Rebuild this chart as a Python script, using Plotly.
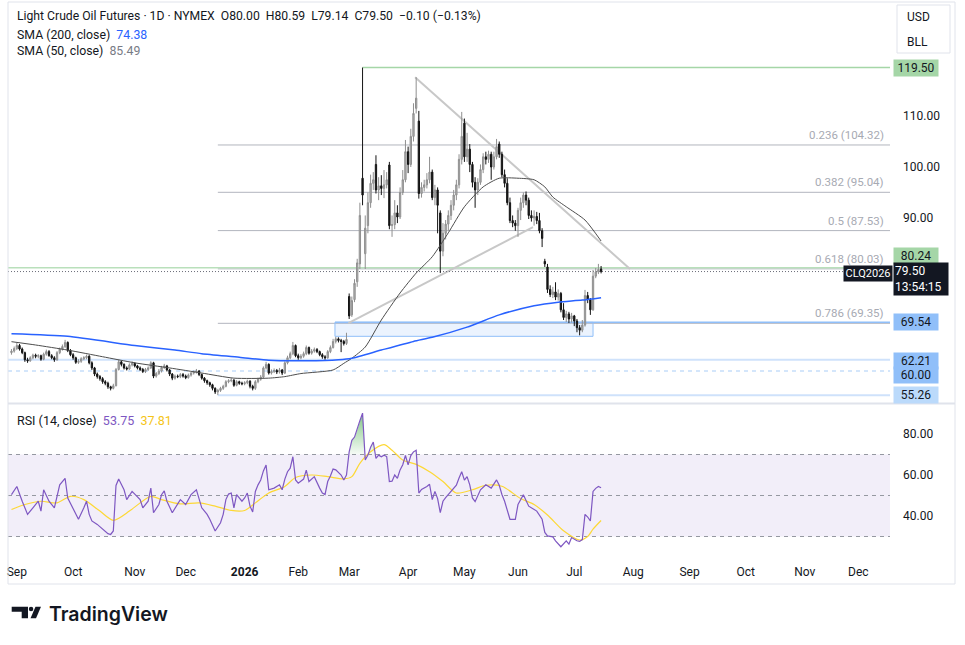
import plotly.graph_objects as go
import pandas as pd

W, H = 965, 645
FONT = "Roboto"
TXT = "#131722"

# ---------------- data ----------------
axis_start_day = "2025-08-27"     # first trading day at the left edge of the time axis
first_bar_day = "2025-08-28"      # first candle in the data lists
last_axis_day = "2026-12-31"
holidays = ["2025-09-01", "2025-11-27", "2025-12-25", "2026-01-01", "2026-01-19",
            "2026-02-16", "2026-04-03", "2026-05-25", "2026-06-19", "2026-07-03",
            "2026-09-07", "2026-11-26", "2026-12-25"]

opens = [
    63.6, 63.9, 64.4, 65.0, 64.3, 63.6, 62.2, 62.0, 62.6, 63.1,
    62.9, 63.0, 62.3, 63.3, 63.8, 63.0, 62.6, 62.2, 63.6, 64.3,
    64.8, 65.6, 64.0, 63.2, 62.6, 61.7, 61.9, 62.4, 62.6, 62.9,
    61.6, 60.6, 59.4, 58.9, 58.5, 57.9, 57.6, 56.9, 56.6, 57.1,
    60.3, 61.8, 61.3, 60.6, 60.4, 61.2, 61.5, 61.0, 60.6, 60.3,
    59.9, 60.3, 60.6, 61.6, 59.0, 59.5, 60.0, 60.7, 61.0, 60.2,
    59.4, 58.6, 59.0, 58.9, 59.3, 59.0, 58.7, 59.2, 59.6, 59.8,
    60.0, 59.3, 58.6, 58.1, 57.7, 57.3, 56.6, 55.9, 56.2, 56.6,
    57.0, 57.9, 58.1, 58.2, 57.2, 57.9, 57.6, 57.5, 57.7, 58.0,
    57.0, 56.6, 57.9, 58.4, 58.8, 60.6, 61.3, 59.6, 59.9, 60.1,
    59.8, 60.2, 59.6, 61.6, 62.6, 63.4, 65.0, 63.0, 62.6, 62.9,
    63.4, 64.6, 63.5, 63.9, 64.2, 63.8, 63.2, 62.8, 62.6, 63.8,
    64.6, 65.8, 66.3, 66.0, 65.8, 65.4, 74.6, 71.0, 74.0, 77.5,
    81.0, 97.8, 83.0, 88.5, 93.0, 96.8, 100.5, 95.5, 96.3, 95.8,
    96.5, 100.4, 88.5, 88.7, 91.0, 90.2, 95.0, 97.5, 103.0, 100.5,
    106.0, 111.5, 109.0, 94.8, 96.0, 96.5, 97.5, 99.0, 94.0, 95.5,
    91.0, 83.5, 87.0, 88.8, 90.5, 92.5, 94.5, 96.5, 101.5, 108.6,
    102.0, 103.5, 100.5, 97.0, 95.5, 97.0, 99.5, 102.0, 101.5, 102.5,
    100.0, 102.0, 104.5, 102.5, 98.5, 96.8, 93.0, 89.5, 89.0, 88.5,
    91.5, 93.0, 94.5, 93.5, 90.5, 90.0, 90.3, 89.5, 87.5, 81.5,
    80.4, 76.0, 75.0, 75.5, 74.5, 75.2, 72.0, 70.5, 71.2, 70.2,
    70.8, 69.8, 68.5, 68.0, 69.0, 74.8, 74.0, 72.0, 78.6, 79.4,
    80.0]
highs = [
    64.3, 64.8, 65.5, 65.3, 64.6, 63.8, 62.6, 62.9, 63.4, 63.4,
    63.3, 63.2, 63.6, 64.2, 64.1, 63.3, 62.9, 63.9, 64.6, 65.2,
    66.1, 65.8, 64.3, 63.5, 62.8, 62.3, 62.7, 62.9, 63.2, 63.1,
    61.9, 60.8, 59.7, 59.2, 58.8, 58.2, 57.9, 57.1, 57.5, 60.6,
    62.3, 62.0, 61.5, 60.9, 61.5, 61.9, 61.7, 61.2, 60.9, 60.6,
    60.6, 60.9, 61.9, 61.8, 59.8, 60.4, 61.0, 61.4, 61.2, 60.4,
    59.6, 59.3, 59.3, 59.6, 59.6, 59.3, 59.5, 59.9, 60.1, 60.4,
    60.2, 59.5, 58.8, 58.3, 57.9, 57.5, 56.8, 56.5, 56.9, 57.3,
    58.2, 58.4, 58.6, 58.4, 58.2, 58.1, 57.9, 58.0, 58.3, 58.2,
    57.3, 58.2, 58.7, 59.2, 60.9, 61.8, 61.5, 60.3, 60.5, 60.4,
    60.6, 60.4, 61.9, 63.0, 63.8, 65.7, 65.2, 63.4, 63.3, 63.8,
    65.0, 64.8, 64.3, 64.6, 64.5, 64.0, 63.5, 63.1, 64.1, 65.0,
    66.3, 66.7, 66.6, 66.3, 66.1, 67.5, 75.2, 74.6, 78.0, 82.0,
    93.0, 119.5, 90.5, 95.0, 98.5, 99.0, 102.3, 98.0, 98.4, 99.4,
    99.0, 101.0, 90.5, 93.5, 92.5, 96.0, 99.4, 105.3, 104.0, 107.5,
    112.5, 117.6, 111.0, 97.0, 97.5, 98.8, 102.0, 99.5, 96.5, 96.0,
    91.5, 89.0, 89.6, 91.5, 93.5, 95.5, 97.5, 102.5, 110.8, 109.5,
    106.7, 104.5, 101.0, 98.0, 97.8, 100.5, 102.7, 103.0, 103.2, 103.0,
    103.0, 105.5, 105.0, 103.0, 99.5, 97.8, 94.0, 90.5, 89.6, 92.0,
    94.0, 95.0, 95.2, 94.0, 91.5, 91.5, 91.2, 91.0, 88.0, 82.0,
    81.0, 76.8, 76.5, 77.4, 76.0, 75.5, 73.3, 71.8, 71.6, 71.4,
    71.0, 70.2, 69.0, 70.0, 75.9, 75.5, 74.3, 79.8, 80.2, 81.0,
    80.59]
lows = [
    63.2, 63.6, 64.1, 64.0, 63.3, 61.8, 61.6, 61.8, 62.3, 62.5,
    62.5, 62.0, 62.1, 63.0, 62.8, 62.3, 61.8, 62.0, 63.3, 64.0,
    64.5, 63.7, 62.9, 62.2, 61.4, 61.4, 61.6, 62.1, 62.3, 61.3,
    60.2, 59.0, 58.5, 58.1, 57.5, 57.2, 56.5, 56.2, 56.4, 57.0,
    60.1, 60.9, 60.3, 60.1, 60.2, 60.9, 60.7, 60.3, 60.0, 59.6,
    59.6, 60.0, 60.4, 58.6, 58.7, 59.2, 59.7, 60.4, 59.9, 59.0,
    58.2, 58.3, 58.6, 58.6, 58.7, 58.4, 58.5, 58.9, 59.3, 59.5,
    59.0, 58.3, 57.7, 57.3, 56.9, 56.2, 55.5, 55.26, 55.9, 56.3,
    56.8, 57.6, 57.8, 56.9, 57.0, 57.3, 57.2, 57.2, 57.4, 56.6,
    56.2, 56.3, 57.6, 58.1, 58.6, 60.3, 59.3, 59.3, 59.6, 59.4,
    59.5, 59.2, 59.4, 61.3, 62.3, 63.1, 62.7, 62.2, 62.3, 62.6,
    63.1, 63.2, 63.2, 63.6, 63.5, 62.9, 62.4, 62.2, 62.4, 63.5,
    64.4, 65.4, 65.6, 63.7, 65.0, 65.1, 70.2, 70.6, 73.5, 76.5,
    80.0, 92.5, 80.0, 87.0, 92.0, 95.5, 94.8, 93.5, 94.5, 93.9,
    95.8, 87.8, 86.3, 87.8, 89.0, 89.8, 94.5, 97.0, 98.8, 100.0,
    105.0, 110.5, 93.8, 94.0, 95.2, 95.8, 96.8, 93.5, 92.5, 87.0,
    79.2, 82.5, 85.8, 87.5, 89.6, 91.5, 93.5, 95.8, 100.5, 101.0,
    101.0, 99.0, 96.0, 92.0, 94.5, 96.5, 98.8, 100.5, 100.8, 97.5,
    99.5, 101.5, 101.8, 98.0, 96.0, 92.5, 89.0, 88.2, 87.5, 86.3,
    89.6, 92.0, 92.5, 89.8, 89.3, 88.5, 88.8, 87.0, 84.3, 80.4,
    75.3, 74.5, 74.3, 73.9, 73.8, 71.5, 70.0, 69.6, 69.4, 69.5,
    68.8, 67.6, 67.0, 67.6, 68.7, 73.3, 71.0, 71.8, 78.2, 79.0,
    79.14]
closes = [
    63.9, 64.4, 65.0, 64.3, 63.6, 62.2, 62.0, 62.6, 63.1, 62.9,
    63.0, 62.3, 63.3, 63.8, 63.0, 62.6, 62.2, 63.6, 64.3, 64.8,
    65.6, 64.0, 63.2, 62.6, 61.7, 61.9, 62.4, 62.6, 62.9, 61.6,
    60.6, 59.4, 58.9, 58.5, 57.9, 57.6, 56.9, 56.6, 57.1, 60.3,
    61.8, 61.3, 60.6, 60.4, 61.2, 61.5, 61.0, 60.6, 60.3, 59.9,
    60.3, 60.6, 61.6, 59.0, 59.5, 60.0, 60.7, 61.0, 60.2, 59.4,
    58.6, 59.0, 58.9, 59.3, 59.0, 58.7, 59.2, 59.6, 59.8, 60.0,
    59.3, 58.6, 58.1, 57.7, 57.3, 56.6, 55.9, 56.2, 56.6, 57.0,
    57.9, 58.1, 58.2, 57.2, 57.9, 57.6, 57.5, 57.7, 58.0, 57.0,
    56.6, 57.9, 58.4, 58.8, 60.6, 61.3, 59.6, 59.9, 60.1, 59.8,
    60.2, 59.6, 61.6, 62.6, 63.4, 65.0, 63.0, 62.6, 62.9, 63.4,
    64.6, 63.5, 63.9, 64.2, 63.8, 63.2, 62.8, 62.6, 63.8, 64.6,
    65.8, 66.3, 66.0, 65.8, 65.4, 66.2, 70.8, 73.8, 77.2, 81.2,
    90.5, 94.5, 88.0, 93.0, 96.8, 97.5, 95.5, 96.3, 95.8, 96.5,
    97.5, 88.5, 88.7, 91.0, 90.2, 95.0, 97.5, 103.0, 100.5, 106.0,
    110.5, 113.5, 94.8, 96.0, 96.5, 97.5, 99.0, 94.0, 95.5, 92.5,
    83.5, 87.0, 88.8, 90.5, 92.5, 94.5, 96.5, 101.5, 106.0, 102.0,
    103.5, 100.5, 97.0, 95.5, 97.0, 99.5, 102.0, 101.5, 102.5, 100.0,
    102.0, 104.0, 102.5, 98.5, 96.8, 93.0, 89.5, 89.0, 88.5, 91.5,
    93.0, 94.5, 93.5, 90.5, 90.0, 90.3, 89.5, 87.5, 86.0, 81.0,
    76.0, 75.0, 75.5, 74.5, 75.2, 72.0, 70.5, 71.2, 70.2, 70.8,
    69.8, 68.5, 68.0, 69.0, 74.8, 74.0, 72.0, 78.6, 79.4, 79.9,
    79.5]
assert len(opens) == len(highs) == len(lows) == len(closes), (len(opens), len(highs), len(lows), len(closes))

# indicator samples, keyed by candle number (0 = first candle)
sma200_bar = [0, 21, 46, 61, 71, 85, 96, 110, 122, 127, 138, 150, 157, 170, 182, 195, 204, 213, 220]
sma200_val = [67.3, 66.8, 65.0, 64.1, 63.4, 62.7, 62.1, 62.0, 62.2, 62.5, 64.1, 65.8, 66.6, 68.6, 71.0,
              72.8, 73.5, 73.9, 74.38]
sma50_bar = [0, 9, 21, 34, 46, 59, 71, 83, 96, 102, 108, 120, 124, 127, 132, 138, 145, 151, 157, 163,
             169, 176, 182, 189, 195, 199, 202, 207, 214, 220]
sma50_val = [65.75, 65.1, 64.1, 62.8, 61.6, 60.6, 59.6, 58.6, 58.6, 58.9, 59.5, 60.2, 61.5, 62.5, 64.7,
             70.0, 75.3, 79.2, 82.4, 87.1, 92.2, 96.1, 97.8, 97.8, 97.5, 96.1, 94.1, 92.2, 89.6, 85.49]

rsi_bar = [0, 2, 4, 6, 8, 10, 11, 12, 14, 16, 18, 20, 21, 23, 25, 27, 28, 29, 30, 32, 34, 36, 37, 38, 39,
           40, 42, 43, 45, 48, 49, 51, 52, 53, 55, 56, 57, 58, 60, 62, 63, 65, 67, 69, 70, 71, 73, 74,
           76, 78, 79, 80, 81, 82, 83, 84, 86, 87, 88, 89, 90, 91, 92, 93, 94, 95, 96, 98, 100, 101,
           102, 103, 104, 105, 106, 107, 109, 110, 111, 113, 115, 116, 117, 118, 119, 120, 121, 123,
           124, 125, 126, 127, 128, 129, 130, 131, 132, 133, 134, 135, 136, 137, 138, 139, 140, 141,
           142, 143, 144, 145, 146, 147, 148, 149, 150, 151, 152, 153, 154, 155, 156, 157, 158, 159,
           160, 161, 162, 163, 165, 166, 167, 168, 169, 170, 171, 172, 173, 175, 177, 179, 181, 182,
           183, 184, 186, 188, 189, 191, 193, 195, 196, 198, 199, 200, 202, 203, 205, 207, 208, 209,
           211, 212, 213, 214, 215, 216, 217, 218, 219, 220]
rsi_val = [50.4, 54.4, 47.2, 40.8, 44.0, 47.2, 42.4, 52.8, 47.2, 44.0, 55.2, 58.4, 48.8, 43.2, 38.4,
           44.0, 47.2, 40.8, 37.6, 35.9, 33.5, 31.4, 31.0, 32.7, 54.9, 58.0, 52.8, 48.0, 52.0, 48.0,
           44.0, 47.2, 53.6, 41.6, 45.6, 50.4, 52.3, 47.2, 41.6, 45.6, 48.0, 45.6, 50.4, 52.8, 48.0,
           44.0, 40.8, 38.4, 32.7, 36.7, 40.8, 48.0, 50.7, 51.2, 44.0, 50.4, 47.2, 48.8, 51.2, 44.8,
           42.0, 52.0, 55.2, 57.6, 62.0, 64.9, 52.8, 53.6, 55.2, 52.8, 58.0, 61.6, 63.3, 68.9, 57.6,
           56.0, 58.0, 62.4, 56.8, 59.2, 53.6, 51.2, 50.5, 56.8, 59.5, 62.9, 62.5, 60.0, 57.6, 60.0,
           71.3, 76.9, 78.5, 82.0, 86.5, 90.2, 67.3, 69.7, 73.5, 76.1, 68.1, 69.7, 68.9, 69.7, 69.0,
           56.8, 57.0, 60.0, 58.4, 62.5, 65.0, 69.5, 64.9, 69.5, 71.3, 72.1, 51.2, 53.0, 53.6, 54.4,
           55.5, 48.0, 52.0, 48.5, 41.6, 47.2, 49.0, 50.4, 53.6, 55.0, 58.5, 61.6, 57.5, 59.2, 55.2,
           48.8, 47.0, 52.8, 55.2, 53.6, 57.6, 55.0, 50.5, 47.2, 38.4, 38.4, 45.6, 50.4, 44.8, 43.2,
           42.4, 38.4, 32.0, 30.3, 29.8, 27.9, 25.0, 27.9, 26.3, 29.5, 27.9, 27.6, 28.5, 40.8, 39.5,
           37.6, 52.0, 53.5, 54.4, 53.75]
assert len(rsi_bar) == len(rsi_val), (len(rsi_bar), len(rsi_val))

rsima_bar = [0, 5, 11, 17, 22, 27, 33, 38, 44, 48, 52, 56, 63, 70, 76, 82, 87, 91, 96, 102, 106, 112,
             118, 124, 127, 130, 134, 139, 142, 146, 151, 156, 161, 166, 172, 177, 183, 190, 195, 200,
             206, 212, 215, 217, 220]
rsima_val = [43.2, 45.6, 47.2, 46.4, 49.6, 48.0, 42.4, 37.9, 42.4, 46.4, 49.6, 48.0, 45.9, 46.4, 44.8,
             42.7, 42.7, 46.4, 51.2, 54.4, 58.8, 60.0, 59.2, 58.1, 59.2, 65.7, 71.3, 74.8, 72.1, 67.3,
             65.2, 61.6, 56.8, 51.2, 52.8, 55.0, 54.5, 48.5, 45.6, 40.5, 32.8, 28.3, 30.0, 33.6, 37.81]
assert len(rsima_bar) == len(rsima_val)

tick_months = ["2025-09", "2025-10", "2025-11", "2025-12", "2026-01", "2026-02", "2026-03", "2026-04",
               "2026-05", "2026-06", "2026-07", "2026-08", "2026-09", "2026-10", "2026-11", "2026-12"]
tick_labels = ["Sep", "Oct", "Nov", "Dec", "<b>2026</b>", "Feb", "Mar", "Apr", "May", "Jun", "Jul",
               "Aug", "Sep", "Oct", "Nov", "Dec"]

# drawings
fib_ratios = ["0.236", "0.382", "0.5", "0.618", "0.786"]
fib_prices = [104.32, 95.04, 87.53, 80.03, 69.35]
fib_anchor_candle = 77        # candle holding the 55.26 low
spike_candle = 131            # candle whose wick hit 119.50
level_high = 119.50
level_green = 80.24
level_box_top = 69.54
level_blue1 = 62.21
level_blue2 = 60.00
level_low = 55.26
box_axis = [121.7, 218.0]     # time-axis slot positions of the zone box
box_low = 66.8
trend_lines = [((151.6, 117.6), (231.8, 80.0)), ((126.7, 69.4), (195.6, 88.2))]
sma200_last, sma50_last = 74.38, 85.49
rsi_last, rsima_last = 53.75, 37.81

# ---------------- layout helpers ----------------
def PX(x):
    return x / W

def PY(y):
    return 1 - y / H

R0 = -0.3
R1 = R0 + 882 / 2.68
P_TOP = 80 + (269 - 3) / 5.1
P_BOT = 80 - (402 - 269) / 5.1
RSI_TOP = 80 + (434 - 405) / 2.05
RSI_BOT = 80 - (555 - 434) / 2.05

days = [d.strftime("%Y-%m-%d") for d in pd.bdate_range(axis_start_day, last_axis_day)
        if d.strftime("%Y-%m-%d") not in holidays]
OFF = days.index(first_bar_day)
tick_vals = []
for m in tick_months:
    for i, d in enumerate(days):
        if d.startswith(m):
            tick_vals.append(i)
            break

def ax(seq):
    return [OFF + b for b in seq]

bars = ax(range(len(closes)))

fig = go.Figure()
fig.add_trace(go.Candlestick(
    x=bars, open=opens, high=highs, low=lows, close=closes,
    increasing=dict(line=dict(color="#8f8f8f", width=1), fillcolor="#b5b5b5"),
    decreasing=dict(line=dict(color="#141414", width=1), fillcolor="#141414"),
    whiskerwidth=0, hoverinfo="skip", xaxis="x", yaxis="y", showlegend=False))
fig.add_trace(go.Scatter(x=ax(sma50_bar), y=sma50_val, mode="lines",
                         line=dict(color="#4d4d4d", width=1, shape="spline", smoothing=0.6),
                         hoverinfo="skip", xaxis="x", yaxis="y", showlegend=False))
fig.add_trace(go.Scatter(x=ax(sma200_bar), y=sma200_val, mode="lines",
                         line=dict(color="#2962ff", width=1.5, shape="spline", smoothing=0.6),
                         hoverinfo="skip", xaxis="x", yaxis="y", showlegend=False))

# RSI overbought fill (segments above 70)
rx = ax(rsi_bar)
fx, fy = [], []
for k in range(len(rx) - 1):
    a, b = rsi_val[k], rsi_val[k + 1]
    xa, xb = rx[k], rx[k + 1]
    if a > 70 or b > 70:
        if a <= 70 < b:
            fx += [xa + (70 - a) / (b - a) * (xb - xa)]; fy += [70]
        if a > 70:
            fx += [xa]; fy += [a]
        if b <= 70 < a:
            fx += [xa + (a - 70) / (a - b) * (xb - xa), None]; fy += [70, None]
fig.add_trace(go.Scatter(x=fx, y=fy, mode="lines", line=dict(width=0), fill="toself",
                         fillgradient=dict(type="vertical", start=70, stop=90,
                                           colorscale=[[0, "rgba(76,175,80,0.05)"], [1, "rgba(76,175,80,0.7)"]]),
                         hoverinfo="skip", xaxis="x2", yaxis="y2", showlegend=False))
fig.add_trace(go.Scatter(x=ax(rsima_bar), y=rsima_val, mode="lines",
                         line=dict(color="#fdd835", width=1.2, shape="spline", smoothing=0.8),
                         hoverinfo="skip", xaxis="x2", yaxis="y2", showlegend=False))
fig.add_trace(go.Scatter(x=rx, y=rsi_val, mode="lines", line=dict(color="#7e57c2", width=1.2),
                         hoverinfo="skip", xaxis="x2", yaxis="y2", showlegend=False))

shapes = []
shapes.append(dict(type="rect", xref="paper", yref="paper", x0=PX(8), x1=PX(955), y0=PY(2), y1=PY(584),
                   line=dict(color="#e0e3eb", width=1)))
shapes.append(dict(type="line", xref="paper", yref="paper", x0=PX(8), x1=PX(955), y0=PY(403.5), y1=PY(403.5),
                   line=dict(color="#e0e3eb", width=2)))
shapes.append(dict(type="rect", xref="paper", yref="paper", x0=PX(897), x1=PX(950), y0=PY(5), y1=PY(53),
                   line=dict(color="#e0e3eb", width=1)))

def hline(price, x0, x1, color, width=1, dash="solid", ref=("x", "y")):
    shapes.append(dict(type="line", xref=ref[0], yref=ref[1], x0=x0, x1=x1, y0=price, y1=price,
                       line=dict(color=color, width=width, dash=dash), layer="below"))

fib_x0 = OFF + fib_anchor_candle
for lvl in fib_prices:
    hline(lvl, fib_x0, R1, "#b2b5be", 1)
hline(level_high, OFF + spike_candle, R1, "#a5d6a7", 1.5)
hline(level_green, R0, R1, "#b9e0bb", 1.5)
hline(level_blue1, R0, R1, "#cfe2fb", 2)
hline(level_blue2, R0, R1, "#a9cdf7", 1, "4px,4px")
hline(level_low, fib_x0, R1, "#cfe2fb", 2)
hline(level_box_top, box_axis[0], R1, "#90bff9", 1.5)
shapes.append(dict(type="rect", xref="x", yref="y", x0=box_axis[0], x1=box_axis[1], y0=box_low, y1=level_box_top,
                   line=dict(color="#90bff9", width=1), fillcolor="rgba(144,191,249,0.18)", layer="below"))
for (x0, y0), (x1, y1) in trend_lines:
    shapes.append(dict(type="line", xref="x", yref="y", x0=x0, y0=y0, x1=x1, y1=y1,
                       line=dict(color="#c8c8c8", width=2), layer="below"))
hline(closes[-1], R0, R1, "#6a6d78", 1, "1px,2px")

shapes.append(dict(type="rect", xref="x2", yref="y2", x0=R0, x1=R1, y0=30, y1=70,
                   fillcolor="rgba(126,87,194,0.1)", line=dict(width=0), layer="below"))
for lv in (70, 50, 30):
    hline(lv, R0, R1, "#9598a1", 1, "4px,4px", ("x2", "y2"))

def path(points):
    return "M " + " L ".join(f"{PX(x):.5f},{PY(y):.5f}" for x, y in points) + " Z"

shapes.append(dict(type="path", xref="paper", yref="paper",
                   path=path([(11.7, 606.7), (28.0, 606.7), (28.0, 618.3), (21.7, 618.3), (21.7, 611.7), (11.7, 611.7)]),
                   fillcolor="#131722", line=dict(width=0)))
shapes.append(dict(type="circle", xref="paper", yref="paper", x0=PX(28.8), x1=PX(33.3), y0=PY(606.7), y1=PY(611.2),
                   fillcolor="#131722", line=dict(width=0)))
shapes.append(dict(type="path", xref="paper", yref="paper",
                   path=path([(30.5, 618.3), (35.5, 606.7), (41.0, 606.7), (36.0, 618.3)]),
                   fillcolor="#131722", line=dict(width=0)))

ann = []

def text(x, y, t, size=12, color=TXT, xanchor="left", family=FONT, weight="normal"):
    ann.append(dict(xref="paper", yref="paper", x=PX(x), y=PY(y), text=t, showarrow=False,
                    xanchor=xanchor, yanchor="middle", borderpad=0,
                    font=dict(size=size, color=color, family=family, weight=weight)))

NB = "\u00a0"
text(16, 16, f"Light Crude Oil Futures · 1D · NYMEX{NB*2}O80.00{NB*2}H80.59{NB*2}L79.14{NB*2}C79.50{NB*2}−0.10 (−0.13%)", size=12.2)
text(16, 35, f"SMA (200, close){NB*2}<span style='color:#2962ff'>{sma200_last:.2f}</span>", size=12.3)
text(16, 51, f"SMA (50, close){NB*2}<span style='color:#787b86'>{sma50_last:.2f}</span>", size=12.3)
text(16, 420, f"RSI (14, close){NB*2}<span style='color:#7e57c2'>{rsi_last:.2f}</span>{NB*2}<span style='color:#f5c518'>{rsima_last:.2f}</span>", size=12.5)
text(906, 17, "USD")
text(906, 42, "BLL")
text(48, 614, "TradingView", size=19.5, family="Inter", weight=600)

for r, lvl in zip(fib_ratios, fib_prices):
    ann.append(dict(xref="paper", yref="y", x=PX(885), y=lvl, text=f"{r} ({lvl:.2f})", showarrow=False,
                    xanchor="right", yanchor="bottom", yshift=2, borderpad=0,
                    font=dict(size=11.5, color="#a7aab3", family=FONT)))

def tag(t, price, bg, fg, yshift=0, x0=893, width=42, align="center", xanchor="left", size=12):
    ann.append(dict(xref="paper", yref="y", x=PX(x0), y=price, text=t, showarrow=False, xanchor=xanchor,
                    yanchor="middle", yshift=yshift, bgcolor=bg, borderpad=1, width=width, align=align,
                    font=dict(size=size, color=fg, family=FONT)))

tag(f"{level_high:.2f}", level_high, "#a5d6a7", TXT)
tag(f"{level_green:.2f}", level_green, "#a5d6a7", TXT, yshift=12)
tag(f"{closes[-1]:.2f}<br>13:54:15", closes[-1], "#131722", "#ffffff", yshift=-7, width=52, align="left")
tag("CLQ2026", closes[-1], "#131722", "#ffffff", yshift=-1.5, width=46, xanchor="right", size=11)
tag(f"{level_box_top:.2f}", level_box_top, "#90bff9", TXT)
tag(f"{level_blue1:.2f}", level_blue1, "#90bff9", TXT, yshift=-1)
tag(f"{level_blue2:.2f}", level_blue2, "#90bff9", TXT, yshift=-3.5)
tag(f"{level_low:.2f}", level_low, "#bbdafb", TXT)

fig.update_layout(
    width=W, height=H, margin=dict(l=0, r=0, t=0, b=0),
    paper_bgcolor="white", plot_bgcolor="white", showlegend=False, hovermode=False,
    font=dict(family=FONT, size=12, color=TXT),
    xaxis=dict(domain=[PX(8), PX(890)], range=[R0, R1], anchor="y", showticklabels=False, showgrid=False,
               zeroline=False, showline=False, rangeslider=dict(visible=False), fixedrange=True),
    yaxis=dict(domain=[PY(402), PY(3)], range=[P_BOT, P_TOP], anchor="x", side="right",
               tickvals=[90, 100, 110], ticktext=["90.00", "100.00", "110.00"], showgrid=False,
               zeroline=False, showline=False, ticks="", ticklabelstandoff=12,
               tickfont=dict(size=12, color=TXT, family=FONT)),
    xaxis2=dict(domain=[PX(8), PX(890)], range=[R0, R1], anchor="y2", matches="x", showgrid=False,
                zeroline=False, showline=False, tickvals=tick_vals, ticktext=tick_labels, ticks="",
                ticklabelstandoff=8, tickfont=dict(size=12, color=TXT, family=FONT),
                rangeslider=dict(visible=False)),
    yaxis2=dict(domain=[PY(555), PY(405)], range=[RSI_BOT, RSI_TOP], anchor="x2", side="right",
                tickvals=[40, 60, 80], ticktext=["40.00", "60.00", "80.00"], showgrid=False,
                zeroline=False, showline=False, ticks="", ticklabelstandoff=12,
                tickfont=dict(size=12, color=TXT, family=FONT)),
    shapes=shapes, annotations=ann,
)

fig.write_html("out.html")
